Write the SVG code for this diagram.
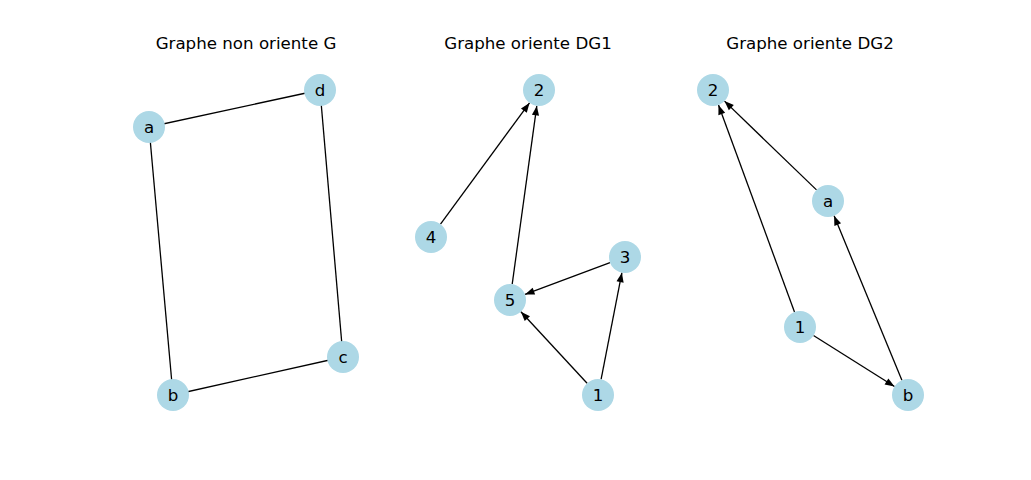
<svg xmlns="http://www.w3.org/2000/svg" width="1031" height="480" viewBox="0 0 1031 480">
<defs>
<style>
.title{font-family:"DejaVu Sans",sans-serif;font-size:16.67px;fill:#000;text-anchor:middle}
.node circle{fill:#add8e6;stroke:none}
.node text{font-family:"DejaVu Sans",sans-serif;font-size:16.67px;fill:#000;text-anchor:middle;dominant-baseline:central}
.edges line{stroke:#000;stroke-width:1.3;fill:none}
.edges .arr{marker-end:url(#ah)}
</style>
<marker id="ah" markerUnits="userSpaceOnUse" markerWidth="12" markerHeight="10" viewBox="-11 -5 12 10" refX="0" refY="0" orient="auto">
<path d="M0,0 L-9.5,-3.6 L-9.5,3.6 Z" fill="#000"/>
</marker>
</defs>
<rect width="1031" height="480" fill="#fff"/>
<text class="title" x="246" y="49">Graphe non oriente G</text>
<text class="title" x="528" y="49">Graphe oriente DG1</text>
<text class="title" x="810" y="49">Graphe oriente DG2</text>
<g id="connectors" class="edges">
<line x1="149" y1="127" x2="320" y2="90"/>
<line x1="149" y1="127" x2="173" y2="395"/>
<line x1="320" y1="90" x2="343" y2="357"/>
<line x1="173" y1="395" x2="343" y2="357"/>
<line class="arr" x1="440.5" y1="224.1" x2="529.5" y2="102.9"/>
<line class="arr" x1="512.2" y1="284.1" x2="536.8" y2="105.9"/>
<line class="arr" x1="610" y1="262.6" x2="525" y2="294.4"/>
<line class="arr" x1="587.1" y1="383.3" x2="520.9" y2="311.7"/>
<line class="arr" x1="601.1" y1="379.3" x2="621.9" y2="272.7"/>
<line class="arr" x1="816.5" y1="189.9" x2="724.5" y2="101.1"/>
<line class="arr" x1="794.5" y1="312" x2="718.5" y2="105"/>
<line class="arr" x1="813.5" y1="335.5" x2="894.5" y2="386.5"/>
<line class="arr" x1="901.9" y1="380.2" x2="834.1" y2="215.8"/>
</g>
<g id="G-a" class="node"><circle cx="149" cy="127" r="16"/><text x="149" y="127">a</text></g>
<g id="G-d" class="node"><circle cx="320" cy="90" r="16"/><text x="320" y="90">d</text></g>
<g id="G-b" class="node"><circle cx="173" cy="395" r="16"/><text x="173" y="395">b</text></g>
<g id="G-c" class="node"><circle cx="343" cy="357" r="16"/><text x="343" y="357">c</text></g>
<g id="DG1-2" class="node"><circle cx="539" cy="90" r="16"/><text x="539" y="90">2</text></g>
<g id="DG1-4" class="node"><circle cx="431" cy="237" r="16"/><text x="431" y="237">4</text></g>
<g id="DG1-3" class="node"><circle cx="625" cy="257" r="16"/><text x="625" y="257">3</text></g>
<g id="DG1-5" class="node"><circle cx="510" cy="300" r="16"/><text x="510" y="300">5</text></g>
<g id="DG1-1" class="node"><circle cx="598" cy="395" r="16"/><text x="598" y="395">1</text></g>
<g id="DG2-2" class="node"><circle cx="713" cy="90" r="16"/><text x="713" y="90">2</text></g>
<g id="DG2-a" class="node"><circle cx="828" cy="201" r="16"/><text x="828" y="201">a</text></g>
<g id="DG2-1" class="node"><circle cx="800" cy="327" r="16"/><text x="800" y="327">1</text></g>
<g id="DG2-b" class="node"><circle cx="908" cy="395" r="16"/><text x="908" y="395">b</text></g>
</svg>
